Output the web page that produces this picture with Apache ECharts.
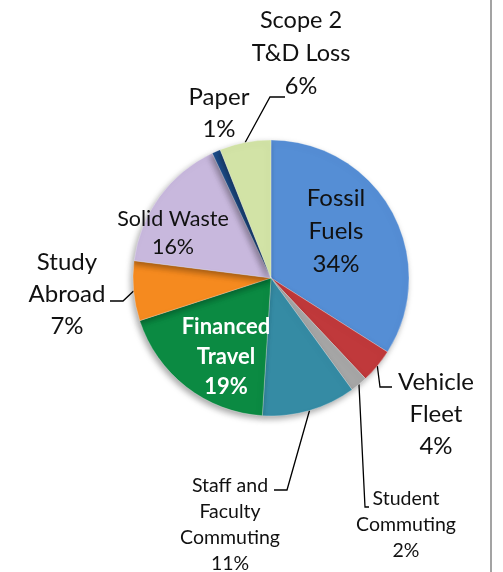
<!DOCTYPE html>
<html>
<head>
<meta charset="utf-8">
<script src="https://cdn.jsdelivr.net/npm/echarts@6/dist/echarts.min.js"></script>
<style>
html,body{margin:0;padding:0;background:#fff;}
#chart{width:503px;height:572px;}
</style>
</head>
<body>
<div id="chart"></div>
<script>
// ---- data ----
var categories = ['Fossil\nFuels', 'Vehicle\nFleet', 'Student\nCommuting', 'Staff and\nFaculty\nCommuting', 'Financed\nTravel', 'Study\nAbroad', 'Solid Waste', 'Paper', 'Scope 2\nT&D Loss'];
var values = [34, 4, 2, 11, 19, 7, 16, 1, 6];

// ---- styles / layout (not data) ----
var colors = ['#558ed5', '#c0393b', '#a6a6a6', '#358ba4', '#0b8a42', '#f58a1f', '#c8b8dd', '#1f4e8c', '#d2e3a6'];
var labelCenters = [[336, 231], [436, 414], [406, 525], [230, 525], [226, 357], [67, 294], [173, 233], [219, 113], [301, 53]];
var labelInside = [true, false, false, false, true, false, true, false, false];
var labelSizes = [24, 24, 19.5, 19.5, 22, 24, 21.5, 24, 23.5];
var labelLineHeights = [33, 32, 26, 26, 30, 32, 28, 32, 33];
var labelBold = [false, false, false, false, true, false, false, false, false];
var labelColor = ['#111', '#111', '#111', '#111', '#fff', '#111', '#111', '#111', '#111'];
var showLine = [false, true, true, true, false, true, false, false, true];
// leader line bend and end points (after the anchor on the slice edge)
var leaderTail = [null, [[380, 387], [392, 387]], [[365, 507], [369, 507]], [[287, 490], [274, 490]], null, [[123, 301], [110, 301]], null, null, [[270, 97], [285, 97]]];

var data = values.map(function (v, i) {
  return {
    name: categories[i],
    value: v,
    itemStyle: { color: colors[i] },
    label: {
      position: labelInside[i] ? 'inside' : 'outside',
      fontSize: labelSizes[i],
      lineHeight: labelLineHeights[i],
      fontWeight: labelBold[i] ? 'bold' : 'normal',
      color: labelColor[i]
    },
    labelLine: { show: showLine[i] }
  };
});

var chart = echarts.init(document.getElementById('chart'), null, { renderer: 'canvas' });
chart.setOption({
  backgroundColor: '#fff',
  animation: false,
  graphic: [{
    type: 'line',
    shape: { x1: 491, y1: 0, x2: 491, y2: 572 },
    style: { stroke: '#a3a3a3', lineWidth: 2 }
  }],
  series: [{
    type: 'pie',
    center: [271, 278],
    radius: [0, 138],
    startAngle: 90,
    clockwise: true,
    avoidLabelOverlap: false,
    data: data,
    itemStyle: {
      borderColor: 'rgba(255,255,255,0.35)',
      borderWidth: 0.8,
      shadowBlur: 6,
      shadowColor: 'rgba(0,0,0,0.35)',
      shadowOffsetX: -2,
      shadowOffsetY: 3
    },
    label: {
      show: true,
      fontFamily: 'Lato, "Open Sans", sans-serif',
      align: 'center',
      formatter: function (p) { return p.name + '\n' + p.value + '%'; }
    },
    labelLine: {
      length: 12,
      length2: 10,
      smooth: false,
      lineStyle: { color: '#000', width: 1.3 }
    },
    labelLayout: function (params) {
      var i = params.dataIndex;
      var c = labelCenters[i];
      var out = {
        x: c[0],
        y: c[1],
        align: 'center',
        verticalAlign: 'middle',
        hideOverlap: false
      };
      if (leaderTail[i] && params.labelLinePoints) {
        var a = params.labelLinePoints[0];
        out.labelLinePoints = [[a[0], a[1]], leaderTail[i][0], leaderTail[i][1]];
      }
      return out;
    },
    emphasis: { disabled: true }
  }]
});
</script>
</body>
</html>
